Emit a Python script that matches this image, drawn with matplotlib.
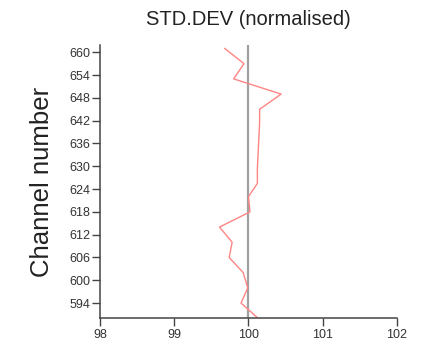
import matplotlib
matplotlib.use("Agg")
import matplotlib.pyplot as plt

plt.rcParams['font.family'] = ['Liberation Sans', 'DejaVu Sans']

# normalised std.dev per channel
channels = [590, 594, 598, 602, 606, 610, 614, 618, 622, 625.5,
            629.5, 633.5, 637.5, 641.5, 645, 649, 653, 657, 661]
std_dev = [100.13, 99.90, 99.99, 99.93, 99.74, 99.78, 99.61, 100.02, 100.00, 100.12,
           100.12, 100.13, 100.14, 100.15, 100.15, 100.44, 99.80, 99.94, 99.68]
y_ticks = [594, 600, 606, 612, 618, 624, 630, 636, 642, 648, 654, 660]
x_ticks = [98, 99, 100, 101, 102]
reference = 100

fig = plt.figure(figsize=(4.31, 3.41), dpi=100)
ax = fig.add_axes([0.232, 0.0666, 0.689, 0.8024])

ax.axvline(reference, color='#a0a0a0', lw=1.6, zorder=1)
ax.plot(std_dev, channels, color='#ff8585', lw=1.0, zorder=2)

ax.set_xlim(98, 102)
ax.set_ylim(590, 662)
ax.set_xticks(x_ticks)
ax.set_yticks(y_ticks)

for side in ['top', 'right']:
    ax.spines[side].set_visible(False)
for side in ['left', 'bottom']:
    ax.spines[side].set_color('#444444')
    ax.spines[side].set_linewidth(1.1)

ax.tick_params(axis='both', colors='#444444', length=5.5, width=1.0,
               labelsize=9, labelcolor='#333333')
ax.tick_params(axis='y', pad=1.5)
ax.tick_params(axis='x', pad=2.5)

ax.set_title("STD.DEV (normalised)", fontsize=14.5, color='#222222', pad=14)
ax.set_ylabel("Channel number", fontsize=18.5, color='#222222', labelpad=11)

fig.savefig("out.png", dpi=100)
